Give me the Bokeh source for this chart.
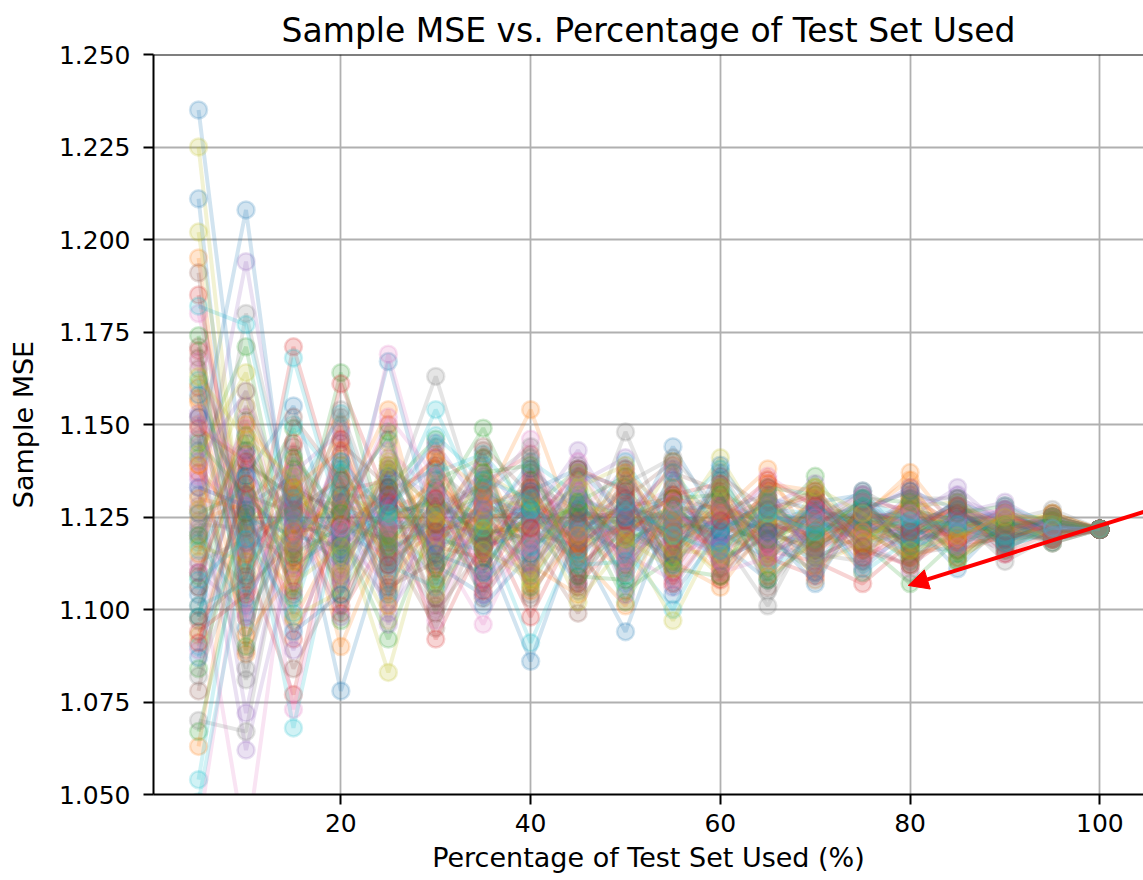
from bokeh.plotting import figure
from bokeh.models import Range1d, FixedTicker, PrintfTickFormatter, Span, Arrow, NormalHead
from bokeh.embed import file_html
from bokeh.resources import INLINE

# ---------------- data ----------------
x_pct = [5, 10, 15, 20, 25, 30, 35, 40, 45, 50, 55, 60, 65, 70, 75, 80, 85, 90, 95, 100]
x_ticks = [20, 40, 60, 80, 100]
y_ticks = [1.050, 1.075, 1.100, 1.125, 1.150, 1.175, 1.200, 1.225, 1.250]
palette = ["#1f77b4", "#ff7f0e", "#2ca02c", "#d62728", "#9467bd",
           "#8c564b", "#e377c2", "#7f7f7f", "#bcbd22", "#17becf"]

s00 = [1.235, 1.131, 1.118, 1.140, 1.109, 1.127, 1.133, 1.118, 1.121, 1.129, 1.117, 1.125, 1.119, 1.128, 1.121, 1.124, 1.120, 1.123, 1.122, 1.1217]
s01 = [1.195, 1.102, 1.135, 1.112, 1.128, 1.141, 1.116, 1.124, 1.131, 1.114, 1.126, 1.119, 1.130, 1.117, 1.125, 1.137, 1.121, 1.119, 1.124, 1.1217]
s02 = [1.141, 1.171, 1.109, 1.126, 1.137, 1.112, 1.121, 1.133, 1.116, 1.124, 1.130, 1.113, 1.122, 1.126, 1.118, 1.107, 1.119, 1.125, 1.121, 1.1217]
s03 = [1.185, 1.118, 1.127, 1.099, 1.121, 1.133, 1.108, 1.127, 1.119, 1.133, 1.110, 1.128, 1.116, 1.113, 1.107, 1.118, 1.126, 1.120, 1.123, 1.1217]
s04 = [1.128, 1.194, 1.119, 1.133, 1.104, 1.122, 1.138, 1.111, 1.127, 1.118, 1.122, 1.131, 1.112, 1.120, 1.128, 1.116, 1.124, 1.127, 1.120, 1.1217]
s05 = [1.191, 1.089, 1.144, 1.118, 1.131, 1.101, 1.126, 1.120, 1.135, 1.111, 1.127, 1.118, 1.125, 1.131, 1.116, 1.122, 1.129, 1.118, 1.124, 1.1217]
s06 = [1.180, 1.126, 1.101, 1.149, 1.118, 1.126, 1.113, 1.136, 1.110, 1.126, 1.133, 1.114, 1.128, 1.115, 1.123, 1.129, 1.117, 1.122, 1.125, 1.1217]
s07 = [1.106, 1.180, 1.124, 1.107, 1.141, 1.118, 1.129, 1.104, 1.123, 1.120, 1.115, 1.127, 1.121, 1.124, 1.119, 1.126, 1.114, 1.124, 1.127, 1.1217]
s08 = [1.225, 1.110, 1.131, 1.122, 1.097, 1.138, 1.117, 1.125, 1.114, 1.131, 1.121, 1.109, 1.126, 1.119, 1.130, 1.112, 1.123, 1.121, 1.119, 1.1217]
s09 = [1.182, 1.177, 1.121, 1.113, 1.126, 1.108, 1.131, 1.119, 1.128, 1.116, 1.100, 1.124, 1.117, 1.129, 1.121, 1.125, 1.118, 1.126, 1.122, 1.1217]
s10 = [1.211, 1.095, 1.127, 1.135, 1.116, 1.124, 1.110, 1.131, 1.118, 1.094, 1.129, 1.121, 1.114, 1.122, 1.126, 1.119, 1.127, 1.117, 1.121, 1.1217]
s11 = [1.063, 1.138, 1.097, 1.121, 1.133, 1.115, 1.127, 1.109, 1.124, 1.133, 1.117, 1.126, 1.138, 1.116, 1.122, 1.128, 1.120, 1.124, 1.123, 1.1217]
s12 = [1.067, 1.121, 1.138, 1.104, 1.125, 1.130, 1.119, 1.127, 1.112, 1.121, 1.128, 1.116, 1.123, 1.136, 1.118, 1.121, 1.125, 1.119, 1.120, 1.1217]
s13 = [1.152, 1.108, 1.171, 1.127, 1.112, 1.124, 1.135, 1.116, 1.129, 1.113, 1.124, 1.130, 1.115, 1.121, 1.127, 1.123, 1.116, 1.121, 1.124, 1.1217]
s14 = [1.135, 1.062, 1.116, 1.142, 1.120, 1.109, 1.124, 1.138, 1.117, 1.127, 1.113, 1.122, 1.129, 1.114, 1.120, 1.131, 1.122, 1.126, 1.121, 1.1217]
s15 = [1.078, 1.143, 1.125, 1.111, 1.139, 1.127, 1.103, 1.122, 1.130, 1.119, 1.134, 1.113, 1.120, 1.127, 1.124, 1.117, 1.128, 1.122, 1.118, 1.1217]
s16 = [1.112, 1.035, 1.129, 1.118, 1.107, 1.135, 1.120, 1.114, 1.126, 1.138, 1.118, 1.125, 1.111, 1.123, 1.129, 1.120, 1.124, 1.118, 1.123, 1.1217]
s17 = [1.070, 1.067, 1.134, 1.125, 1.119, 1.100, 1.128, 1.132, 1.109, 1.122, 1.126, 1.119, 1.132, 1.117, 1.124, 1.114, 1.121, 1.125, 1.122, 1.1217]
s18 = [1.202, 1.117, 1.106, 1.130, 1.127, 1.121, 1.112, 1.126, 1.133, 1.117, 1.121, 1.128, 1.118, 1.130, 1.115, 1.124, 1.119, 1.123, 1.126, 1.1217]
s19 = [1.054, 1.131, 1.118, 1.137, 1.113, 1.129, 1.123, 1.091, 1.120, 1.125, 1.131, 1.117, 1.124, 1.112, 1.127, 1.122, 1.126, 1.120, 1.121, 1.1217]
s20 = [1.143, 1.208, 1.112, 1.120, 1.130, 1.117, 1.132, 1.123, 1.107, 1.130, 1.119, 1.133, 1.120, 1.125, 1.132, 1.118, 1.123, 1.127, 1.120, 1.1217]
s21 = [1.124, 1.129, 1.140, 1.090, 1.122, 1.136, 1.118, 1.128, 1.121, 1.110, 1.125, 1.120, 1.127, 1.121, 1.117, 1.130, 1.115, 1.122, 1.124, 1.1217]
s22 = [1.098, 1.151, 1.114, 1.164, 1.116, 1.123, 1.107, 1.119, 1.126, 1.123, 1.112, 1.127, 1.117, 1.128, 1.122, 1.119, 1.127, 1.118, 1.122, 1.1217]
s23 = [1.160, 1.113, 1.077, 1.132, 1.135, 1.111, 1.129, 1.121, 1.117, 1.128, 1.130, 1.111, 1.124, 1.118, 1.125, 1.126, 1.120, 1.124, 1.119, 1.1217]
s24 = [1.147, 1.072, 1.132, 1.108, 1.124, 1.131, 1.115, 1.133, 1.124, 1.115, 1.122, 1.126, 1.115, 1.123, 1.129, 1.121, 1.118, 1.121, 1.125, 1.1217]
s25 = [1.119, 1.145, 1.123, 1.127, 1.105, 1.118, 1.136, 1.110, 1.132, 1.121, 1.116, 1.129, 1.122, 1.114, 1.120, 1.127, 1.122, 1.119, 1.123, 1.1217]
s26 = [1.040, 1.124, 1.137, 1.116, 1.131, 1.126, 1.119, 1.125, 1.113, 1.130, 1.127, 1.118, 1.131, 1.120, 1.123, 1.115, 1.126, 1.124, 1.121, 1.1217]
s27 = [1.131, 1.098, 1.120, 1.138, 1.127, 1.163, 1.122, 1.117, 1.128, 1.119, 1.123, 1.121, 1.113, 1.127, 1.126, 1.122, 1.117, 1.126, 1.124, 1.1217]
s28 = [1.093, 1.133, 1.113, 1.123, 1.083, 1.129, 1.126, 1.130, 1.120, 1.126, 1.114, 1.131, 1.126, 1.119, 1.118, 1.129, 1.121, 1.120, 1.122, 1.1217]
s29 = [1.048, 1.116, 1.127, 1.119, 1.134, 1.114, 1.133, 1.124, 1.116, 1.140, 1.121, 1.114, 1.119, 1.126, 1.121, 1.117, 1.125, 1.123, 1.120, 1.1217]
s30 = [1.133, 1.128, 1.136, 1.078, 1.120, 1.132, 1.117, 1.121, 1.129, 1.118, 1.144, 1.123, 1.128, 1.116, 1.124, 1.125, 1.120, 1.125, 1.123, 1.1217]
s31 = [1.156, 1.105, 1.119, 1.131, 1.114, 1.120, 1.128, 1.154, 1.119, 1.124, 1.119, 1.127, 1.117, 1.130, 1.119, 1.121, 1.128, 1.117, 1.125, 1.1217]
s32 = [1.109, 1.140, 1.130, 1.121, 1.092, 1.125, 1.131, 1.115, 1.131, 1.117, 1.128, 1.118, 1.125, 1.122, 1.128, 1.116, 1.123, 1.124, 1.121, 1.1217]
s33 = [1.137, 1.123, 1.111, 1.161, 1.129, 1.117, 1.114, 1.129, 1.122, 1.127, 1.115, 1.124, 1.130, 1.118, 1.122, 1.128, 1.119, 1.121, 1.124, 1.1217]
s34 = [1.122, 1.137, 1.126, 1.114, 1.138, 1.130, 1.120, 1.112, 1.125, 1.121, 1.126, 1.116, 1.121, 1.129, 1.117, 1.123, 1.126, 1.129, 1.122, 1.1217]
s35 = [1.165, 1.112, 1.133, 1.125, 1.118, 1.095, 1.125, 1.126, 1.118, 1.129, 1.120, 1.130, 1.118, 1.121, 1.125, 1.118, 1.122, 1.119, 1.123, 1.1217]
s36 = [1.127, 1.149, 1.073, 1.129, 1.125, 1.121, 1.117, 1.131, 1.127, 1.114, 1.129, 1.121, 1.127, 1.117, 1.121, 1.126, 1.118, 1.126, 1.120, 1.1217]
s37 = [1.113, 1.119, 1.128, 1.116, 1.132, 1.138, 1.127, 1.120, 1.114, 1.148, 1.118, 1.125, 1.116, 1.124, 1.128, 1.120, 1.124, 1.122, 1.125, 1.1217]
s38 = [1.150, 1.134, 1.117, 1.133, 1.121, 1.112, 1.130, 1.128, 1.126, 1.120, 1.097, 1.122, 1.128, 1.121, 1.116, 1.127, 1.121, 1.123, 1.121, 1.1217]
s39 = [1.118, 1.101, 1.168, 1.124, 1.111, 1.127, 1.121, 1.114, 1.130, 1.125, 1.123, 1.119, 1.124, 1.127, 1.123, 1.119, 1.127, 1.118, 1.124, 1.1217]
s40 = [1.104, 1.125, 1.120, 1.117, 1.167, 1.119, 1.116, 1.127, 1.121, 1.116, 1.127, 1.128, 1.120, 1.118, 1.126, 1.124, 1.111, 1.124, 1.122, 1.1217]
s41 = [1.139, 1.120, 1.126, 1.136, 1.126, 1.134, 1.124, 1.118, 1.123, 1.131, 1.113, 1.106, 1.123, 1.125, 1.120, 1.130, 1.123, 1.121, 1.120, 1.1217]
s42 = [1.126, 1.132, 1.115, 1.122, 1.119, 1.128, 1.149, 1.122, 1.128, 1.119, 1.124, 1.121, 1.129, 1.119, 1.127, 1.117, 1.125, 1.120, 1.125, 1.1217]
s43 = [1.170, 1.115, 1.129, 1.119, 1.133, 1.092, 1.119, 1.130, 1.115, 1.124, 1.130, 1.127, 1.119, 1.126, 1.121, 1.122, 1.120, 1.125, 1.121, 1.1217]
s44 = [1.133, 1.128, 1.122, 1.126, 1.123, 1.120, 1.128, 1.125, 1.143, 1.122, 1.121, 1.117, 1.126, 1.120, 1.124, 1.127, 1.124, 1.118, 1.123, 1.1217]
s45 = [1.101, 1.139, 1.131, 1.128, 1.114, 1.133, 1.122, 1.119, 1.099, 1.127, 1.125, 1.123, 1.118, 1.128, 1.118, 1.124, 1.127, 1.122, 1.124, 1.1217]
s46 = [1.144, 1.116, 1.124, 1.110, 1.169, 1.124, 1.126, 1.121, 1.124, 1.118, 1.119, 1.129, 1.124, 1.122, 1.127, 1.119, 1.121, 1.124, 1.121, 1.1217]
s47 = [1.120, 1.106, 1.118, 1.131, 1.130, 1.116, 1.123, 1.134, 1.127, 1.123, 1.127, 1.120, 1.101, 1.125, 1.123, 1.128, 1.119, 1.120, 1.123, 1.1217]
s48 = [1.161, 1.124, 1.132, 1.124, 1.117, 1.131, 1.118, 1.123, 1.120, 1.126, 1.122, 1.141, 1.120, 1.117, 1.125, 1.121, 1.126, 1.123, 1.120, 1.1217]
s49 = [1.116, 1.136, 1.068, 1.127, 1.124, 1.122, 1.127, 1.117, 1.125, 1.120, 1.126, 1.117, 1.127, 1.123, 1.119, 1.125, 1.122, 1.124, 1.122, 1.1217]
s50 = [1.152, 1.103, 1.123, 1.119, 1.128, 1.126, 1.118, 1.086, 1.122, 1.128, 1.120, 1.124, 1.122, 1.127, 1.123, 1.120, 1.125, 1.121, 1.124, 1.1217]
s51 = [1.130, 1.127, 1.116, 1.134, 1.120, 1.119, 1.124, 1.129, 1.118, 1.122, 1.128, 1.125, 1.126, 1.108, 1.126, 1.123, 1.119, 1.125, 1.121, 1.1217]
s52 = [1.145, 1.131, 1.126, 1.115, 1.126, 1.129, 1.120, 1.124, 1.127, 1.102, 1.123, 1.122, 1.119, 1.124, 1.120, 1.127, 1.124, 1.119, 1.123, 1.1217]
s53 = [1.110, 1.142, 1.121, 1.123, 1.131, 1.121, 1.125, 1.098, 1.124, 1.127, 1.119, 1.128, 1.123, 1.120, 1.124, 1.122, 1.128, 1.123, 1.122, 1.1217]
s54 = [1.126, 1.119, 1.130, 1.120, 1.115, 1.125, 1.130, 1.126, 1.119, 1.123, 1.126, 1.120, 1.125, 1.123, 1.122, 1.125, 1.133, 1.122, 1.124, 1.1217]
s55 = [1.168, 1.126, 1.114, 1.129, 1.122, 1.123, 1.121, 1.122, 1.126, 1.125, 1.121, 1.126, 1.121, 1.126, 1.125, 1.118, 1.123, 1.126, 1.121, 1.1217]
s56 = [1.136, 1.130, 1.127, 1.122, 1.127, 1.118, 1.096, 1.123, 1.121, 1.121, 1.124, 1.123, 1.128, 1.119, 1.121, 1.126, 1.120, 1.121, 1.123, 1.1217]
s57 = [1.123, 1.122, 1.133, 1.125, 1.121, 1.127, 1.125, 1.126, 1.123, 1.124, 1.125, 1.119, 1.122, 1.124, 1.126, 1.121, 1.125, 1.113, 1.120, 1.1217]
s58 = [1.117, 1.113, 1.122, 1.128, 1.126, 1.124, 1.122, 1.121, 1.128, 1.126, 1.120, 1.127, 1.124, 1.122, 1.120, 1.124, 1.122, 1.125, 1.118, 1.1217]
s59 = [1.090, 1.123, 1.125, 1.121, 1.125, 1.154, 1.126, 1.127, 1.122, 1.123, 1.127, 1.121, 1.126, 1.121, 1.124, 1.123, 1.121, 1.123, 1.122, 1.1217]
s60 = [1.098, 1.143, 1.104, 1.131, 1.146, 1.112, 1.104, 1.138, 1.127, 1.109, 1.135, 1.118, 1.108, 1.129, 1.131, 1.114, 1.127, 1.118, 1.125, 1.1217]
s61 = [1.157, 1.088, 1.121, 1.150, 1.107, 1.124, 1.141, 1.112, 1.104, 1.136, 1.121, 1.110, 1.134, 1.124, 1.110, 1.133, 1.119, 1.126, 1.120, 1.1217]
s62 = [1.084, 1.126, 1.149, 1.097, 1.133, 1.146, 1.111, 1.127, 1.138, 1.105, 1.114, 1.135, 1.119, 1.110, 1.129, 1.119, 1.130, 1.116, 1.123, 1.1217]
s63 = [1.149, 1.140, 1.092, 1.123, 1.150, 1.103, 1.134, 1.142, 1.111, 1.124, 1.139, 1.108, 1.127, 1.131, 1.116, 1.112, 1.121, 1.127, 1.119, 1.1217]
s64 = [1.110, 1.099, 1.137, 1.148, 1.096, 1.132, 1.108, 1.121, 1.134, 1.141, 1.106, 1.124, 1.133, 1.112, 1.119, 1.128, 1.131, 1.121, 1.124, 1.1217]
s65 = [1.171, 1.122, 1.084, 1.109, 1.138, 1.121, 1.143, 1.103, 1.126, 1.112, 1.137, 1.132, 1.106, 1.123, 1.130, 1.115, 1.117, 1.124, 1.120, 1.1217]
s66 = [1.089, 1.152, 1.118, 1.136, 1.122, 1.097, 1.129, 1.146, 1.108, 1.131, 1.115, 1.119, 1.136, 1.128, 1.112, 1.126, 1.124, 1.115, 1.125, 1.1217]
s67 = [1.146, 1.081, 1.142, 1.119, 1.102, 1.144, 1.116, 1.110, 1.139, 1.127, 1.109, 1.137, 1.118, 1.114, 1.131, 1.110, 1.128, 1.122, 1.119, 1.1217]
s68 = [1.127, 1.159, 1.098, 1.105, 1.145, 1.116, 1.137, 1.129, 1.102, 1.118, 1.140, 1.112, 1.125, 1.133, 1.116, 1.131, 1.113, 1.126, 1.124, 1.1217]
s69 = [1.162, 1.110, 1.130, 1.153, 1.112, 1.106, 1.122, 1.140, 1.131, 1.107, 1.126, 1.138, 1.110, 1.120, 1.128, 1.124, 1.122, 1.117, 1.121, 1.1217]
s70 = [1.087, 1.136, 1.155, 1.114, 1.128, 1.139, 1.101, 1.115, 1.137, 1.133, 1.104, 1.121, 1.130, 1.127, 1.111, 1.122, 1.129, 1.124, 1.118, 1.1217]
s71 = [1.139, 1.093, 1.110, 1.127, 1.154, 1.108, 1.128, 1.133, 1.115, 1.101, 1.133, 1.126, 1.109, 1.118, 1.126, 1.135, 1.114, 1.121, 1.126, 1.1217]
s72 = [1.120, 1.147, 1.103, 1.139, 1.117, 1.135, 1.141, 1.106, 1.129, 1.136, 1.111, 1.109, 1.133, 1.131, 1.122, 1.113, 1.126, 1.128, 1.121, 1.1217]
s73 = [1.094, 1.104, 1.145, 1.101, 1.129, 1.141, 1.113, 1.135, 1.107, 1.120, 1.131, 1.134, 1.114, 1.109, 1.129, 1.127, 1.118, 1.119, 1.123, 1.1217]
s74 = [1.153, 1.131, 1.089, 1.128, 1.099, 1.118, 1.139, 1.124, 1.136, 1.104, 1.122, 1.117, 1.128, 1.134, 1.113, 1.120, 1.130, 1.125, 1.119, 1.1217]
s75 = [1.106, 1.155, 1.127, 1.145, 1.133, 1.099, 1.117, 1.137, 1.116, 1.130, 1.140, 1.109, 1.121, 1.116, 1.127, 1.132, 1.116, 1.120, 1.125, 1.1217]
s76 = [1.167, 1.098, 1.139, 1.107, 1.143, 1.131, 1.104, 1.118, 1.140, 1.115, 1.108, 1.128, 1.117, 1.130, 1.119, 1.111, 1.125, 1.127, 1.122, 1.1217]
s77 = [1.082, 1.118, 1.116, 1.152, 1.110, 1.128, 1.134, 1.144, 1.105, 1.128, 1.124, 1.133, 1.105, 1.122, 1.132, 1.125, 1.121, 1.116, 1.124, 1.1217]
s78 = [1.142, 1.164, 1.107, 1.117, 1.139, 1.104, 1.124, 1.107, 1.133, 1.139, 1.116, 1.115, 1.130, 1.112, 1.118, 1.128, 1.129, 1.122, 1.120, 1.1217]
s79 = [1.101, 1.107, 1.150, 1.134, 1.104, 1.137, 1.142, 1.127, 1.112, 1.113, 1.137, 1.122, 1.127, 1.126, 1.110, 1.119, 1.115, 1.128, 1.123, 1.1217]
s80 = [1.158, 1.127, 1.094, 1.104, 1.136, 1.115, 1.110, 1.132, 1.138, 1.125, 1.112, 1.139, 1.121, 1.107, 1.127, 1.132, 1.127, 1.119, 1.125, 1.1217]
s81 = [1.115, 1.150, 1.133, 1.143, 1.101, 1.142, 1.132, 1.105, 1.120, 1.137, 1.126, 1.114, 1.134, 1.132, 1.121, 1.114, 1.119, 1.126, 1.119, 1.1217]
s82 = [1.174, 1.090, 1.141, 1.126, 1.148, 1.107, 1.137, 1.139, 1.109, 1.108, 1.130, 1.131, 1.108, 1.119, 1.130, 1.129, 1.113, 1.123, 1.124, 1.1217]
s83 = [1.091, 1.134, 1.105, 1.146, 1.112, 1.130, 1.105, 1.122, 1.138, 1.132, 1.107, 1.124, 1.135, 1.128, 1.114, 1.121, 1.128, 1.115, 1.121, 1.1217]
s84 = [1.140, 1.159, 1.124, 1.098, 1.130, 1.145, 1.127, 1.109, 1.130, 1.126, 1.138, 1.113, 1.120, 1.110, 1.126, 1.133, 1.124, 1.126, 1.120, 1.1217]
s85 = [1.097, 1.109, 1.152, 1.135, 1.106, 1.113, 1.144, 1.131, 1.106, 1.138, 1.115, 1.136, 1.127, 1.132, 1.117, 1.112, 1.126, 1.121, 1.126, 1.1217]
s86 = [1.150, 1.141, 1.108, 1.122, 1.152, 1.136, 1.109, 1.116, 1.134, 1.110, 1.129, 1.110, 1.114, 1.125, 1.131, 1.126, 1.117, 1.128, 1.122, 1.1217]
s87 = [1.121, 1.084, 1.126, 1.154, 1.119, 1.103, 1.131, 1.141, 1.119, 1.134, 1.141, 1.127, 1.131, 1.115, 1.113, 1.130, 1.130, 1.120, 1.119, 1.1217]
s88 = [1.163, 1.146, 1.136, 1.110, 1.140, 1.126, 1.116, 1.108, 1.137, 1.119, 1.111, 1.133, 1.112, 1.133, 1.126, 1.116, 1.120, 1.125, 1.125, 1.1217]
s89 = [1.108, 1.119, 1.099, 1.140, 1.126, 1.147, 1.135, 1.130, 1.113, 1.129, 1.120, 1.116, 1.126, 1.121, 1.130, 1.124, 1.123, 1.118, 1.122, 1.1217]

series = [s00, s01, s02, s03, s04, s05, s06, s07, s08, s09,
          s10, s11, s12, s13, s14, s15, s16, s17, s18, s19,
          s20, s21, s22, s23, s24, s25, s26, s27, s28, s29,
          s30, s31, s32, s33, s34, s35, s36, s37, s38, s39,
          s40, s41, s42, s43, s44, s45, s46, s47, s48, s49,
          s50, s51, s52, s53, s54, s55, s56, s57, s58, s59,
          s60, s61, s62, s63, s64, s65, s66, s67, s68, s69,
          s70, s71, s72, s73, s74, s75, s76, s77, s78, s79,
          s80, s81, s82, s83, s84, s85, s86, s87, s88, s89]

# annotation arrow (data coordinates)
arrow_tip = (79.8, 1.1065)
arrow_tail = (110.0, 1.1307)

title_text = "Sample MSE vs. Percentage of Test Set Used"
x_label = "Percentage of Test Set Used (%)"
y_label = "Sample MSE"

FONT = "DejaVu Sans"

# ---------------- figure ----------------
p = figure(width=1143, height=880,
           x_range=Range1d(0.25, 104.6), y_range=Range1d(1.05, 1.25),
           output_backend="svg", toolbar_location=None,
           min_border_left=153, min_border_right=0,
           min_border_top=54, min_border_bottom=86)

p.title.text = title_text
p.title.text_font = FONT
p.title.text_font_size = "33px"
p.title.text_font_style = "normal"
p.title.align = "center"
p.title.text_color = "black"
p.title.standoff = 9

p.outline_line_color = None
p.background_fill_color = "white"
p.border_fill_color = "white"

# grid
p.xgrid.ticker = FixedTicker(ticks=x_ticks)
p.ygrid.ticker = FixedTicker(ticks=y_ticks)
for g in (p.xgrid, p.ygrid):
    g.grid_line_color = "#b0b0b0"
    g.grid_line_width = 1.8

# axes
p.xaxis.ticker = FixedTicker(ticks=x_ticks)
p.yaxis.ticker = FixedTicker(ticks=y_ticks)
p.yaxis.formatter = PrintfTickFormatter(format="%.3f")
p.xaxis.axis_label = x_label
p.yaxis.axis_label = y_label
for ax in (p.xaxis, p.yaxis):
    ax.axis_line_color = "black"
    ax.axis_line_width = 2
    ax.major_tick_line_color = "black"
    ax.major_tick_line_width = 2
    ax.major_tick_in = 0
    ax.major_tick_out = 10
    ax.minor_tick_line_color = None
    ax.major_label_text_font = FONT
    ax.major_label_text_font_size = "25px"
    ax.major_label_text_color = "black"
    ax.axis_label_text_font = FONT
    ax.axis_label_text_font_size = "27px"
    ax.axis_label_text_font_style = "normal"
    ax.axis_label_text_color = "black"
p.xaxis.major_label_standoff = 9
p.xaxis.axis_label_standoff = 7
p.yaxis.major_label_standoff = 13
p.yaxis.axis_label_standoff = 17

# top spine
p.add_layout(Span(location=1.25, dimension="width", line_color="black", line_width=2))

# series
for i, ys in enumerate(series):
    c = palette[i % 10]
    p.line(x_pct, ys, line_color=c, line_alpha=0.2, line_width=4)
    p.scatter(x_pct, ys, size=17, marker="circle", fill_color=c, fill_alpha=0.2,
              line_color=c, line_alpha=0.2, line_width=2.5)

# red arrow annotation
p.add_layout(Arrow(x_start=arrow_tail[0], y_start=arrow_tail[1],
                   x_end=arrow_tip[0], y_end=arrow_tip[1],
                   line_color="red", line_width=4,
                   end=NormalHead(size=20, fill_color="red", line_color="red", line_width=1)))

open("out.html", "w").write(file_html(p, INLINE))
